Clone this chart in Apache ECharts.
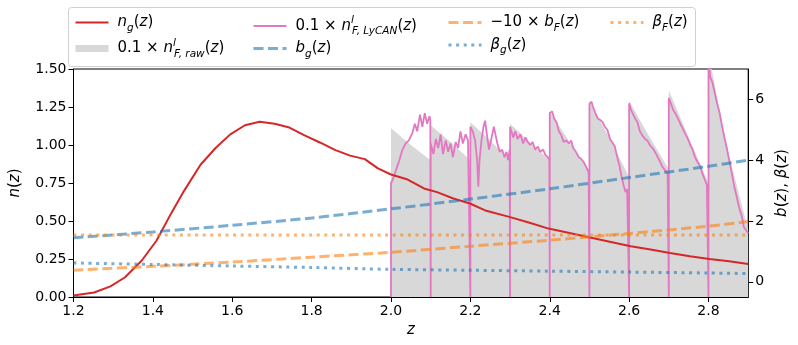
<!DOCTYPE html>
<html>
<head>
<meta charset="utf-8">
<title>n(z), b(z), beta(z)</title>
<style>
  * { margin: 0; padding: 0; }
  body { background: #fff; }
  #main { width: 798px; height: 345px; }
</style>
</head>
<body>
<div id="main"></div>
<script src="https://cdn.jsdelivr.net/npm/echarts@6/dist/echarts.min.js"></script>
<script>
// n_g(z), galaxies (left axis)
var zG = [1.2, 1.252, 1.293, 1.33, 1.372, 1.409, 1.446, 1.479, 1.52, 1.558, 1.595, 1.632, 1.669, 1.707, 1.744, 1.781, 1.822, 1.86, 1.897, 1.934, 1.967,
          2.0, 2.042, 2.083, 2.116, 2.157, 2.199, 2.24, 2.298, 2.347, 2.397, 2.438, 2.496, 2.554, 2.604, 2.654, 2.703, 2.753, 2.802, 2.852, 2.9];
var nG = [0.01, 0.03, 0.07, 0.13, 0.24, 0.37, 0.55, 0.70, 0.87, 0.98, 1.07, 1.13, 1.153, 1.14, 1.115, 1.065, 1.015, 0.966, 0.93, 0.907, 0.846,
          0.806, 0.773, 0.714, 0.69, 0.648, 0.615, 0.567, 0.527, 0.49, 0.45, 0.428, 0.395, 0.362, 0.334, 0.312, 0.29, 0.268, 0.25, 0.235, 0.217];

// 0.1 x n_F raw (grey sawtooth)
var zRaw = [1.97, 2.0, 2.0, 2.05, 2.1, 2.1, 2.15, 2.2, 2.2, 2.25, 2.3, 2.3, 2.35, 2.4, 2.4, 2.45, 2.5, 2.5, 2.55, 2.6, 2.6, 2.65, 2.7, 2.7, 2.75, 2.8, 2.8, 2.82, 2.85, 2.9];
var nRaw = [0, 0, 1.11, 1.0, 0.9, 1.13, 1.02, 0.9, 1.15, 1.03, 0.9, 1.14, 1.02, 0.9, 1.22, 1.02, 0.83, 1.29, 1.05, 0.79, 1.29, 1.06, 0.84, 1.36, 1.05, 0.75, 1.62, 1.33, 0.95, 0.44];

// 0.1 x n_F LyCAN (pink)
var zLy = [2.0, 2.0, 2.004, 2.012, 2.021, 2.029, 2.037, 2.045, 2.054, 2.06, 2.066, 2.073, 2.079, 2.085, 2.091, 2.097, 2.099,
           2.1, 2.1, 2.107, 2.113, 2.119, 2.125, 2.131, 2.138, 2.144, 2.15, 2.156, 2.163, 2.169, 2.175, 2.181, 2.188, 2.194, 2.199,
           2.2, 2.2, 2.206, 2.212, 2.217, 2.22, 2.223, 2.228, 2.233, 2.237, 2.241, 2.247, 2.252, 2.259, 2.264, 2.268, 2.274, 2.28, 2.286, 2.291, 2.295, 2.299,
           2.3, 2.3, 2.308, 2.313, 2.319, 2.326, 2.333, 2.339, 2.344, 2.351, 2.357, 2.363, 2.37, 2.376, 2.383, 2.389, 2.395, 2.399,
           2.4, 2.4, 2.406, 2.411, 2.417, 2.423, 2.429, 2.435, 2.441, 2.448, 2.454, 2.459, 2.466, 2.473, 2.479, 2.485, 2.491, 2.498,
           2.5, 2.5, 2.505, 2.509, 2.515, 2.521, 2.527, 2.533, 2.539, 2.545, 2.552, 2.557, 2.564, 2.57, 2.576, 2.581, 2.586, 2.591, 2.595,
           2.6, 2.6, 2.605, 2.609, 2.615, 2.621, 2.627, 2.633, 2.64, 2.646, 2.652, 2.659, 2.665, 2.672, 2.678, 2.683, 2.69, 2.697,
           2.7, 2.7, 2.705, 2.711, 2.716, 2.723, 2.729, 2.735, 2.741, 2.748, 2.754, 2.76, 2.766, 2.772, 2.779, 2.785, 2.791, 2.796, 2.799,
           2.8, 2.8, 2.804, 2.81, 2.816, 2.822, 2.828, 2.833, 2.84, 2.846, 2.852, 2.859, 2.865, 2.871, 2.877, 2.884, 2.889, 2.9];
var nLy = [0, 0.75, 0.77, 0.83, 0.9, 0.97, 1.01, 1.03, 1.08, 1.14, 1.09, 1.2, 1.12, 1.21, 1.14, 1.19, 1.16,
           0, 1.01, 0.94, 1.04, 0.98, 1.07, 0.94, 1.03, 0.955, 1.01, 0.92, 1.02, 0.98, 1.09, 1.01, 1.07, 1.03, 1.04,
           0, 1.12, 1.09, 1.03, 0.9, 0.725, 0.9, 1.03, 1.12, 1.16, 1.08, 0.97, 1.03, 1.12, 1.13, 1.01, 0.955, 0.97, 0.92, 0.955, 0.9, 0.97,
           0, 1.12, 1.05, 1.09, 1.04, 1.07, 1.01, 1.05, 1.02, 1.0, 1.02, 0.97, 0.99, 0.955, 0.97, 0.935, 0.92, 0.9,
           0, 1.21, 1.22, 1.175, 1.15, 1.09, 1.065, 1.02, 1.03, 1.01, 1.03, 0.98, 0.955, 0.92, 0.91, 0.89, 0.86, 0.82,
           0, 1.27, 1.285, 1.25, 1.21, 1.175, 1.165, 1.15, 1.12, 1.1, 1.04, 1.03, 0.99, 0.92, 0.86, 0.79, 0.735, 0.69, 0.71,
           0, 1.275, 1.23, 1.22, 1.175, 1.15, 1.09, 1.065, 1.04, 1.03, 1.0, 0.98, 0.955, 0.92, 0.89, 0.86, 0.835, 0.82,
           0, 1.31, 1.275, 1.23, 1.21, 1.175, 1.14, 1.11, 1.075, 1.04, 1.0, 0.97, 0.92, 0.89, 0.86, 0.81, 0.77, 0.735, 0.725,
           0, 1.58, 1.45, 1.41, 1.34, 1.27, 1.21, 1.14, 1.05, 0.98, 0.9, 0.81, 0.725, 0.66, 0.59, 0.53, 0.46, 0.42];

// bias and beta (right axis)
var zB = [1.2, 1.4, 1.6, 1.8, 2.0, 2.2, 2.4, 2.6, 2.8, 2.9];
var bG = [1.45, 1.64, 1.86, 2.1, 2.4, 2.72, 3.06, 3.43, 3.8, 4.0];
var bF10 = [0.38, 0.51, 0.65, 0.81, 0.97, 1.17, 1.37, 1.59, 1.83, 1.98];
var betaG = [0.62, 0.57, 0.52, 0.47, 0.41, 0.38, 0.35, 0.32, 0.29, 0.27];
var betaF = [1.54, 1.54, 1.54, 1.54, 1.54, 1.54, 1.54, 1.54, 1.54, 1.54];

var xTicks = [1.2, 1.4, 1.6, 1.8, 2.0, 2.2, 2.4, 2.6, 2.8];
var nTicks = [0, 0.25, 0.5, 0.75, 1.0, 1.25, 1.5];
var bTicks = [0, 2, 4, 6];

function pairs(xs, ys) {
  return xs.map(function (x, i) { return [x, ys[i]]; });
}

var FONT = 'DejaVu Sans';
var GREY = '#d8d8d8';
var PINK = '#e377c2';
var RED = '#d62728';
var BLUE = 'rgba(31,119,180,0.6)';
var ORANGE = 'rgba(255,127,14,0.6)';
var DASH = [10, 4.5];
var DOT = [3, 4.6];

// rich text pieces for mathtext-like labels
var rich = {
  r: { fontFamily: FONT, fontSize: 15, color: '#000', lineHeight: 22, verticalAlign: 'middle' },
  i: { fontFamily: FONT, fontSize: 15, color: '#000', fontStyle: 'italic', lineHeight: 22, verticalAlign: 'middle' },
  sb: { fontFamily: FONT, fontSize: 10.5, color: '#000', fontStyle: 'italic', lineHeight: 10, verticalAlign: 'bottom' },
  sp: { fontFamily: FONT, fontSize: 10.5, color: '#000', fontStyle: 'italic', lineHeight: 10, verticalAlign: 'top', width: 1 },
  gap: { width: 4, lineHeight: 22 }
};

var labels = {
  ng: '{gap| }{i|n}{sb|g}{r|(}{i|z}{r|)}',
  raw: '{gap| }{r|0.1 × }{i|n}{sp|l}{sb|F, raw}{r|(}{i|z}{r|)}',
  lycan: '{gap| }{r|0.1 × }{i|n}{sp|l}{sb|F, LyCAN}{r|(}{i|z}{r|)}',
  bg: '{gap| }{i|b}{sb|g}{r|(}{i|z}{r|)}',
  bF: '{gap| }{r|−10 × }{i|b}{sb|F}{r|(}{i|z}{r|)}',
  betag: '{gap| }{i|β}{sb|g}{r|(}{i|z}{r|)}',
  betaF: '{gap| }{i|β}{sb|F}{r|(}{i|z}{r|)}'
};

function item(name, color, width, type) {
  return { name: name, lineStyle: { color: color, width: width, type: type } };
}

function legendCol(left, items) {
  return {
    orient: 'vertical',
    left: left,
    top: 15,
    itemWidth: 33,
    itemHeight: 14,
    itemGap: 4,
    selectedMode: false,
    padding: 0,
    itemStyle: { opacity: 0 },
    data: items,
    formatter: function (name) { return labels[name]; },
    textStyle: { rich: rich }
  };
}

var chart = echarts.init(document.getElementById('main'), null, { renderer: 'canvas' });

var option = {
  animation: false,
  graphic: [{
    type: 'rect',
    left: 68, top: 7,
    shape: { width: 627, height: 59, r: 3 },
    style: { fill: 'rgba(255,255,255,0.8)', stroke: '#d0d0d0', lineWidth: 1 },
    z: -1
  }],
  legend: [
    legendCol(72, [item('ng', RED, 2, 'solid'), item('raw', GREY, 7, 'solid')]),
    legendCol(252, [item('lycan', PINK, 2, 'solid'), item('bg', BLUE, 3, DASH)]),
    legendCol(447, [item('bF', ORANGE, 3, DASH), item('betag', BLUE, 3, DOT)]),
    legendCol(609, [item('betaF', ORANGE, 3, DOT)])
  ],
  grid: {
    left: 68, right: 45, top: 69, bottom: 48,
    show: true, borderColor: '#000', borderWidth: 1
  },
  xAxis: {
    type: 'value', min: 1.2, max: 2.9,
    name: 'z', nameLocation: 'middle', nameGap: 22,
    nameTextStyle: { fontFamily: FONT, fontSize: 15, fontStyle: 'italic', color: '#000' },
    axisLine: { onZero: false, lineStyle: { color: '#000', width: 1 } },
    axisTick: { length: 5, lineStyle: { color: '#000' }, customValues: xTicks },
    axisLabel: {
      customValues: xTicks, margin: 7, color: '#000', fontFamily: FONT, fontSize: 14,
      formatter: function (v) { return v.toFixed(1); }
    },
    splitLine: { show: false }
  },
  yAxis: [{
    type: 'value', min: 0, max: 1.5, position: 'left',
    name: '{i|n}{r|(}{i|z}{r|)}', nameLocation: 'middle', nameGap: 47,
    nameTextStyle: { rich: rich },
    axisLine: { show: true, lineStyle: { color: '#000', width: 1 } },
    axisTick: { length: 5, lineStyle: { color: '#000' }, customValues: nTicks },
    axisLabel: {
      customValues: nTicks, margin: 7, color: '#000', fontFamily: FONT, fontSize: 14,
      formatter: function (v) { return v.toFixed(2); }
    },
    splitLine: { show: false }
  }, {
    type: 'value', min: -0.5, max: 7, position: 'right',
    name: '{i|b}{r|(}{i|z}{r|), }{i|β}{r|(}{i|z}{r|)}', nameLocation: 'middle', nameGap: 21, nameRotate: 90,
    nameTextStyle: { rich: rich },
    axisLine: { show: true, lineStyle: { color: '#000', width: 1 } },
    axisTick: { length: 5, lineStyle: { color: '#000' }, customValues: bTicks },
    axisLabel: {
      customValues: bTicks, margin: 7, color: '#000', fontFamily: FONT, fontSize: 14
    },
    splitLine: { show: false }
  }],
  series: [{
    name: 'raw', type: 'line', yAxisIndex: 0, data: pairs(zRaw, nRaw),
    symbol: 'none', color: GREY,
    lineStyle: { width: 0, color: GREY },
    areaStyle: { color: GREY, opacity: 1 },
    z: 1
  }, {
    name: 'lycan', type: 'line', yAxisIndex: 0, data: pairs(zLy, nLy),
    symbol: 'none', color: PINK,
    lineStyle: { width: 1.8, color: PINK },
    z: 2
  }, {
    name: 'ng', type: 'line', yAxisIndex: 0, data: pairs(zG, nG),
    symbol: 'none', color: RED,
    lineStyle: { width: 2, color: RED },
    z: 3
  }, {
    name: 'bg', type: 'line', yAxisIndex: 1, data: pairs(zB, bG), smooth: 0.3,
    symbol: 'none', color: BLUE,
    lineStyle: { width: 3, color: BLUE, type: DASH },
    z: 4
  }, {
    name: 'bF', type: 'line', yAxisIndex: 1, data: pairs(zB, bF10), smooth: 0.3,
    symbol: 'none', color: ORANGE,
    lineStyle: { width: 3, color: ORANGE, type: DASH },
    z: 4
  }, {
    name: 'betag', type: 'line', yAxisIndex: 1, data: pairs(zB, betaG), smooth: 0.3,
    symbol: 'none', color: BLUE,
    lineStyle: { width: 3, color: BLUE, type: DOT },
    z: 4
  }, {
    name: 'betaF', type: 'line', yAxisIndex: 1, data: pairs(zB, betaF),
    symbol: 'none', color: ORANGE,
    lineStyle: { width: 3, color: ORANGE, type: DOT },
    z: 4
  }]
};

chart.setOption(option);
</script>
</body>
</html>
